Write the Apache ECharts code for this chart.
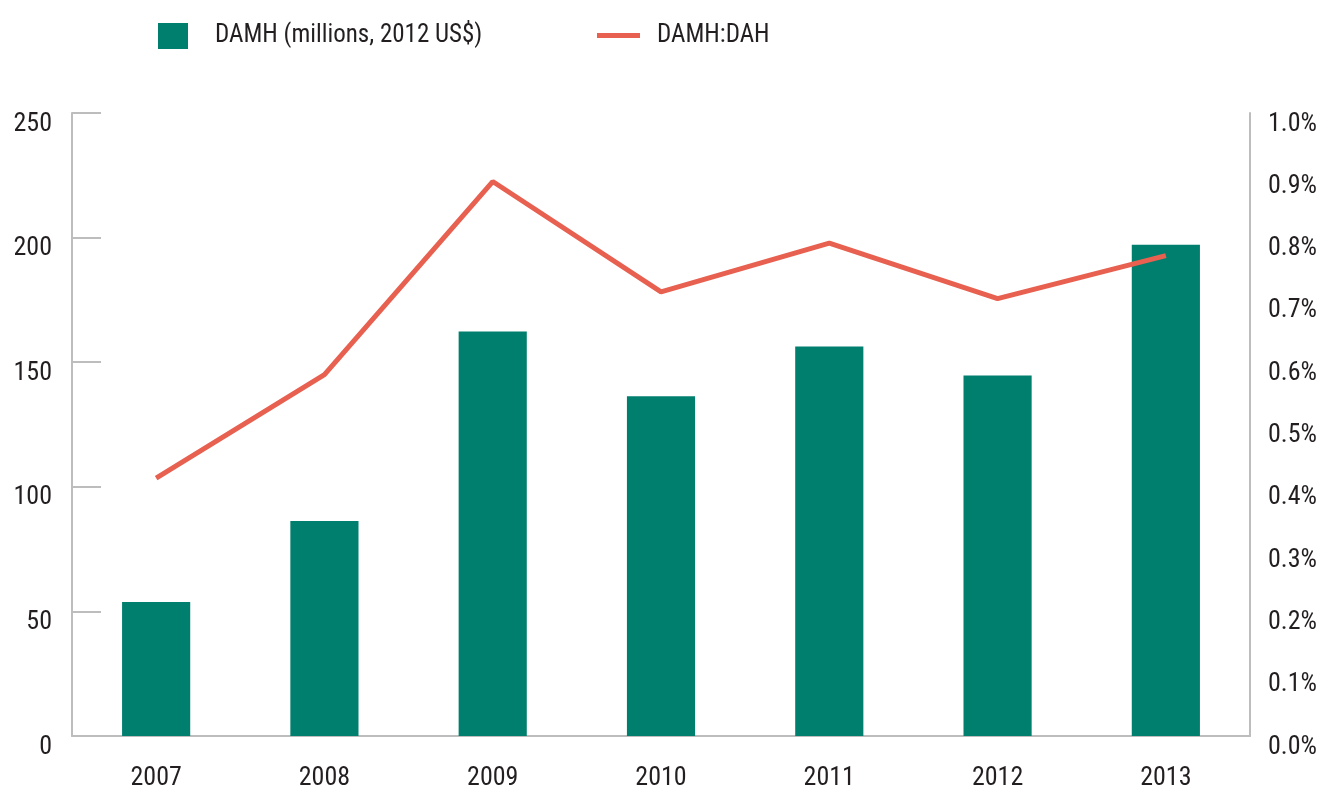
<!DOCTYPE html>
<html>
<head>
<meta charset="utf-8">
<script src="https://cdn.jsdelivr.net/npm/echarts@6/dist/echarts.min.js"></script>
<style>
html,body{margin:0;padding:0;background:#fff;}
#chart{width:1325px;height:791px;}
</style>
</head>
<body>
<div id="chart"></div>
<script>
const categories = ['2007','2008','2009','2010','2011','2012','2013'];
const damh = [53.8, 86.3, 162.3, 136.3, 156.3, 144.7, 197.1];
const ratio = [0.414, 0.580, 0.890, 0.713, 0.791, 0.702, 0.771];
const barName = 'DAMH (millions, 2012 US$)';
const lineName = 'DAMH:DAH';

const FONT = '"Liberation Sans Narrow", "Roboto Condensed", "Liberation Sans", sans-serif';
const TXT = '#231f20';
const chart = echarts.init(document.getElementById('chart'), null, {renderer:'canvas'});
chart.setOption({
  animation:false,
  backgroundColor:'#fff',
  textStyle:{fontFamily:FONT},
  legend:[
    {data:[barName], left:153, top:18, itemWidth:30, itemHeight:26, icon:'rect',
     textStyle:{fontFamily:FONT, fontSize:25, color:TXT, padding:[0,0,0,22]}},
    {data:[lineName], left:592, top:18, itemWidth:43, itemHeight:26, icon:'path://M0,11L43,11L43,16L0,16Z',
     textStyle:{fontFamily:FONT, fontSize:25, color:TXT, padding:[0,0,0,12]}}
  ],
  grid:{left:72, right:75, top:113, bottom:53, containLabel:false},
  xAxis:{
    type:'category', data:categories,
    axisLine:{show:true, lineStyle:{color:'#bdbdbd', width:2}},
    axisTick:{show:false},
    axisLabel:{fontFamily:FONT, fontSize:26, color:TXT, margin:29}
  },
  yAxis:[
    {type:'value', min:0, max:250, interval:50, position:'left',
     axisLine:{show:true, lineStyle:{color:'#bdbdbd', width:2}},
     axisTick:{show:true, inside:true, length:29, lineStyle:{color:'#bdbdbd', width:2}},
     splitLine:{show:false},
     axisLabel:{fontFamily:FONT, fontSize:26, color:TXT, margin:20, verticalAlign:'top', lineHeight:22}},
    {type:'value', min:0, max:1.0, interval:0.1, position:'right',
     axisLine:{show:true, lineStyle:{color:'#bdbdbd', width:2}},
     axisTick:{show:false},
     splitLine:{show:false},
     axisLabel:{fontFamily:FONT, fontSize:26, color:TXT, margin:18, verticalAlign:'top', lineHeight:22,
       formatter:v=>v.toFixed(1)+'%'}}
  ],
  series:[
    {name:barName, type:'bar', data:damh, yAxisIndex:0, barWidth:'40.5%',
     itemStyle:{color:'#007f6e'}},
    {name:lineName, type:'line', data:ratio, yAxisIndex:1, symbol:'none',
     lineStyle:{color:'#e8604f', width:5}, itemStyle:{color:'#e8604f'}}
  ]
});
</script>
</body>
</html>
